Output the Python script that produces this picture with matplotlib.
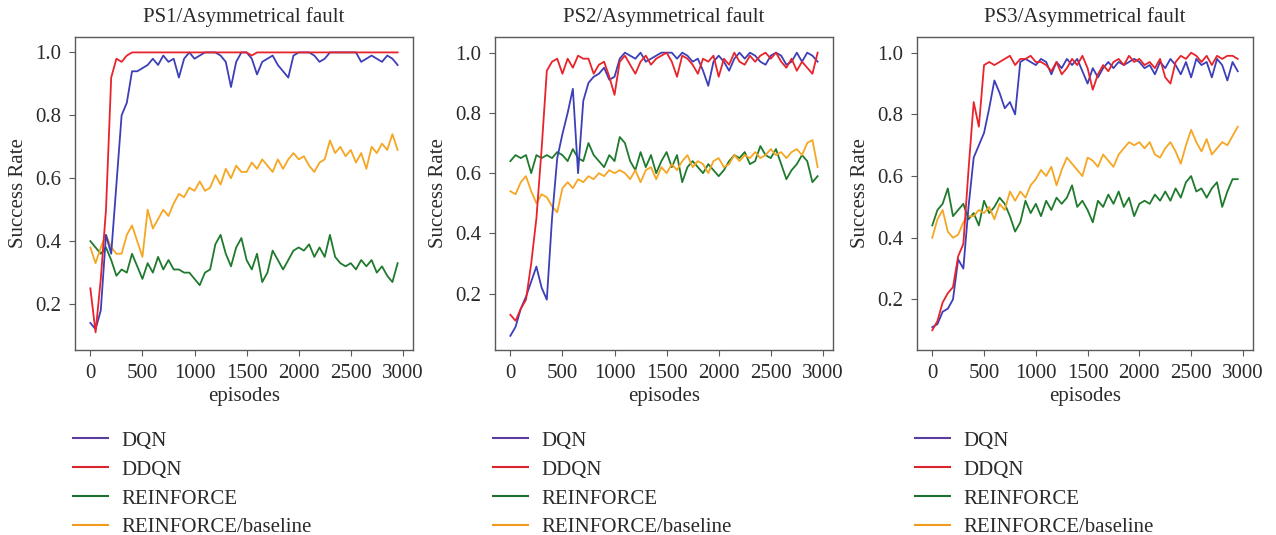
import numpy as np
import matplotlib
matplotlib.use("Agg")
import matplotlib.pyplot as plt
from matplotlib.lines import Line2D

plt.rcParams['font.family'] = ['Liberation Serif', 'DejaVu Serif']

episodes = np.arange(0, 3000, 50)

titles = ["PS1/Asymmetrical fault", "PS2/Asymmetrical fault", "PS3/Asymmetrical fault"]
labels = ["DQN", "DDQN", "REINFORCE", "REINFORCE/baseline"]

# ---------------- PS1 ----------------
ps1_dqn = [0.14, 0.12, 0.18, 0.42, 0.36, 0.58, 0.80, 0.84, 0.94, 0.94,
           0.95, 0.96, 0.98, 0.96, 0.99, 0.97, 0.98, 0.92, 0.98, 1.00,
           0.98, 0.99, 1.00, 1.00, 1.00, 0.99, 0.97, 0.89, 0.97, 1.00,
           1.00, 0.98, 0.93, 0.97, 0.98, 0.99, 0.96, 0.94, 0.92, 0.99,
           1.00, 1.00, 1.00, 0.99, 0.97, 0.98, 1.00, 1.00, 1.00, 1.00,
           1.00, 1.00, 0.97, 0.98, 0.99, 0.98, 0.97, 0.99, 0.98, 0.96]
ps1_ddqn = [0.25, 0.11, 0.28, 0.50, 0.92, 0.98, 0.97, 0.99, 1.00, 1.00,
            1.00, 1.00, 1.00, 1.00, 1.00, 1.00, 1.00, 1.00, 1.00, 1.00,
            1.00, 1.00, 1.00, 1.00, 1.00, 1.00, 1.00, 1.00, 1.00, 1.00,
            1.00, 0.99, 1.00, 1.00, 1.00, 1.00, 1.00, 1.00, 1.00, 1.00,
            1.00, 1.00, 1.00, 1.00, 1.00, 1.00, 1.00, 1.00, 1.00, 1.00,
            1.00, 1.00, 1.00, 1.00, 1.00, 1.00, 1.00, 1.00, 1.00, 1.00]
ps1_reinforce = [0.40, 0.38, 0.36, 0.38, 0.34, 0.29, 0.31, 0.30, 0.36, 0.32,
                 0.28, 0.33, 0.30, 0.35, 0.31, 0.34, 0.31, 0.31, 0.30, 0.30,
                 0.28, 0.26, 0.30, 0.31, 0.39, 0.42, 0.36, 0.32, 0.38, 0.41,
                 0.34, 0.31, 0.36, 0.27, 0.30, 0.37, 0.34, 0.31, 0.34, 0.37,
                 0.38, 0.37, 0.39, 0.35, 0.38, 0.35, 0.42, 0.35, 0.33, 0.32,
                 0.33, 0.31, 0.34, 0.32, 0.34, 0.30, 0.32, 0.29, 0.27, 0.33]
ps1_baseline = [0.38, 0.33, 0.38, 0.42, 0.38, 0.36, 0.36, 0.42, 0.45, 0.40,
                0.35, 0.50, 0.44, 0.47, 0.50, 0.48, 0.52, 0.55, 0.54, 0.57,
                0.56, 0.59, 0.56, 0.57, 0.61, 0.58, 0.63, 0.60, 0.64, 0.62,
                0.62, 0.65, 0.63, 0.66, 0.64, 0.62, 0.66, 0.63, 0.66, 0.68,
                0.66, 0.67, 0.64, 0.62, 0.65, 0.66, 0.72, 0.68, 0.70, 0.67,
                0.69, 0.65, 0.68, 0.63, 0.70, 0.68, 0.71, 0.69, 0.74, 0.69]

# ---------------- PS2 ----------------
ps2_dqn = [0.06, 0.09, 0.15, 0.19, 0.24, 0.29, 0.22, 0.18, 0.45, 0.65,
           0.73, 0.80, 0.88, 0.60, 0.84, 0.90, 0.92, 0.93, 0.95, 0.91,
           0.92, 0.98, 1.00, 0.99, 0.98, 1.00, 0.97, 0.98, 0.99, 1.00,
           1.00, 1.00, 0.98, 1.00, 0.99, 0.97, 0.98, 0.94, 0.89, 0.97,
           0.99, 0.97, 0.94, 0.98, 1.00, 0.98, 1.00, 0.99, 0.97, 0.96,
           0.99, 1.00, 0.99, 0.96, 0.97, 1.00, 0.97, 1.00, 0.99, 0.97]
ps2_ddqn = [0.13, 0.11, 0.15, 0.18, 0.30, 0.45, 0.68, 0.94, 0.97, 0.98,
            0.93, 0.98, 0.95, 0.99, 0.98, 0.98, 0.93, 0.96, 0.97, 0.92,
            0.86, 0.97, 0.99, 0.96, 0.93, 0.97, 0.99, 0.96, 0.98, 0.99,
            1.00, 0.97, 0.92, 0.99, 0.98, 0.96, 0.93, 0.98, 0.97, 0.99,
            0.92, 0.98, 0.96, 1.00, 0.97, 0.96, 0.99, 0.97, 0.99, 1.00,
            0.98, 1.00, 0.97, 0.95, 0.98, 0.94, 0.97, 0.95, 0.93, 1.00]
ps2_reinforce = [0.64, 0.66, 0.65, 0.66, 0.60, 0.66, 0.65, 0.66, 0.65, 0.67,
                 0.66, 0.64, 0.68, 0.65, 0.64, 0.70, 0.66, 0.64, 0.62, 0.66,
                 0.64, 0.72, 0.70, 0.64, 0.61, 0.67, 0.62, 0.66, 0.60, 0.64,
                 0.67, 0.62, 0.66, 0.57, 0.62, 0.64, 0.62, 0.60, 0.63, 0.61,
                 0.59, 0.61, 0.64, 0.66, 0.65, 0.67, 0.63, 0.64, 0.69, 0.66,
                 0.65, 0.68, 0.63, 0.58, 0.61, 0.63, 0.66, 0.64, 0.57, 0.59]
ps2_baseline = [0.54, 0.53, 0.57, 0.59, 0.54, 0.50, 0.53, 0.52, 0.49, 0.47,
                0.55, 0.57, 0.55, 0.58, 0.57, 0.59, 0.58, 0.60, 0.59, 0.61,
                0.60, 0.61, 0.60, 0.58, 0.61, 0.57, 0.61, 0.62, 0.58, 0.62,
                0.60, 0.63, 0.61, 0.64, 0.66, 0.62, 0.64, 0.63, 0.60, 0.64,
                0.65, 0.62, 0.63, 0.66, 0.64, 0.66, 0.65, 0.67, 0.65, 0.66,
                0.68, 0.66, 0.67, 0.65, 0.67, 0.68, 0.66, 0.70, 0.71, 0.62]

# ---------------- PS3 ----------------
ps3_dqn = [0.11, 0.12, 0.16, 0.17, 0.20, 0.33, 0.30, 0.50, 0.66, 0.70,
           0.74, 0.82, 0.91, 0.87, 0.82, 0.84, 0.80, 0.97, 0.98, 0.97,
           0.96, 0.98, 0.97, 0.93, 0.97, 0.95, 0.98, 0.96, 0.98, 0.94,
           0.90, 0.95, 0.92, 0.95, 0.97, 0.95, 0.97, 0.96, 0.97, 0.98,
           0.97, 0.95, 0.96, 0.93, 0.97, 0.95, 0.98, 0.96, 0.93, 0.97,
           0.92, 0.98, 0.96, 0.97, 0.92, 0.98, 0.96, 0.91, 0.97, 0.94]
ps3_ddqn = [0.10, 0.13, 0.19, 0.22, 0.24, 0.34, 0.38, 0.62, 0.84, 0.76,
            0.96, 0.97, 0.96, 0.97, 0.98, 0.99, 0.96, 0.98, 0.98, 0.99,
            0.97, 0.97, 0.96, 0.94, 0.97, 0.93, 0.95, 0.98, 0.96, 0.99,
            0.95, 0.88, 0.93, 0.96, 0.94, 0.97, 0.98, 0.96, 0.99, 0.97,
            0.98, 0.96, 0.97, 0.95, 0.98, 0.92, 0.90, 0.97, 0.99, 0.98,
            1.00, 0.99, 0.97, 0.99, 0.96, 0.99, 0.98, 0.99, 0.99, 0.98]
ps3_reinforce = [0.44, 0.49, 0.51, 0.56, 0.47, 0.49, 0.51, 0.46, 0.48, 0.44,
                 0.52, 0.48, 0.50, 0.53, 0.51, 0.47, 0.42, 0.45, 0.52, 0.48,
                 0.51, 0.47, 0.52, 0.49, 0.53, 0.51, 0.53, 0.57, 0.50, 0.52,
                 0.49, 0.45, 0.52, 0.50, 0.54, 0.51, 0.55, 0.50, 0.53, 0.47,
                 0.51, 0.52, 0.51, 0.54, 0.52, 0.55, 0.52, 0.56, 0.53, 0.58,
                 0.60, 0.55, 0.56, 0.53, 0.56, 0.58, 0.50, 0.55, 0.59, 0.59]
ps3_baseline = [0.40, 0.46, 0.49, 0.42, 0.40, 0.41, 0.45, 0.47, 0.47, 0.49,
                0.48, 0.50, 0.46, 0.51, 0.49, 0.55, 0.52, 0.55, 0.53, 0.57,
                0.59, 0.62, 0.60, 0.63, 0.57, 0.62, 0.66, 0.64, 0.62, 0.60,
                0.66, 0.65, 0.63, 0.67, 0.65, 0.63, 0.67, 0.69, 0.71, 0.70,
                0.71, 0.69, 0.71, 0.67, 0.66, 0.69, 0.71, 0.68, 0.64, 0.70,
                0.75, 0.71, 0.68, 0.72, 0.67, 0.69, 0.71, 0.70, 0.73, 0.76]

panels = [
    (ps1_dqn, ps1_ddqn, ps1_reinforce, ps1_baseline),
    (ps2_dqn, ps2_ddqn, ps2_reinforce, ps2_baseline),
    (ps3_dqn, ps3_ddqn, ps3_reinforce, ps3_baseline),
]
ylims = [(0.054, 1.049), (0.013, 1.052), (0.036, 1.051)]

line_colors = ["#3c3fb8", "#e8232b", "#1f7a2e", "#f5a623"]
legend_colors = ["#5b3d9e", "#d9252c", "#1c6e31", "#f29a1e"]

fig = plt.figure(figsize=(12.76, 5.35), dpi=100)
lefts = [75, 495, 917]
widths = [338, 338, 336]
W, H = 1276, 535
top_px, bot_px = 37, 350

spine_color = "#5a5a5a"
text_color = "#2a2a2a"
fs = 15

for i, (left, w) in enumerate(zip(lefts, widths)):
    ax = fig.add_axes([left / W, (H - bot_px) / H, w / W, (bot_px - top_px) / H])
    dqn, ddqn, rf, bl = panels[i]
    ax.plot(episodes, rf, color=line_colors[2], lw=1.3)
    ax.plot(episodes, bl, color=line_colors[3], lw=1.3)
    ax.plot(episodes, dqn, color=line_colors[0], lw=1.3)
    ax.plot(episodes, ddqn, color=line_colors[1], lw=1.3)
    ax.set_xlim(-147.5, 3097.5)
    ax.set_ylim(*ylims[i])
    ax.set_xticks([0, 500, 1000, 1500, 2000, 2500, 3000])
    ax.set_yticks([0.2, 0.4, 0.6, 0.8, 1.0])
    ax.set_yticklabels(["0.2", "0.4", "0.6", "0.8", "1.0"])
    for s in ax.spines.values():
        s.set_color(spine_color)
        s.set_linewidth(1.0)
    ax.tick_params(axis='both', direction='out', length=4, width=0.8,
                   color=spine_color, labelsize=fs, labelcolor=text_color, pad=6)
    ax.set_title(titles[i], fontsize=fs, color=text_color, pad=11)
    ax.set_xlabel("episodes", fontsize=fs, color=text_color, labelpad=3)
    ax.set_ylabel("Success Rate", fontsize=fs, color=text_color, labelpad=5)

    handles = [Line2D([0], [0], color=c, lw=1.5) for c in legend_colors]
    leg = ax.legend(handles, labels, loc='upper left',
                    bbox_to_anchor=((left - 2) / W, (H - 431) / H),
                    bbox_transform=fig.transFigure, frameon=False,
                    fontsize=fs, handlelength=1.7, handletextpad=0.6,
                    labelspacing=0.45, borderpad=0.0, borderaxespad=0.0)
    for t in leg.get_texts():
        t.set_color(text_color)

fig.savefig("out.png", dpi=100, facecolor="white")
